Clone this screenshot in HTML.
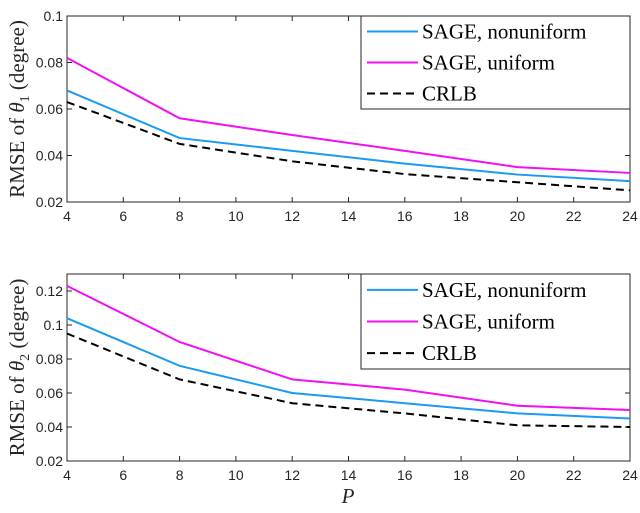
<!DOCTYPE html>
<html><head><meta charset="utf-8"><style>
body{margin:0;background:#fff}
svg text{font-family:"Liberation Sans",sans-serif}
.serif{font-family:"Liberation Serif",serif}
</style></head><body>
<svg id="c" width="640" height="508" viewBox="0 0 640 508" xmlns="http://www.w3.org/2000/svg"></svg>
<script>
const xVals=[4,8,12,16,20,24];
const xTicks=[4,6,8,10,12,14,16,18,20,22,24];
const top_nonuniform=[0.068,0.0475,0.042,0.0365,0.0318,0.029];
const top_uniform=[0.082,0.056,0.0488,0.042,0.035,0.0325];
const top_crlb=[0.063,0.045,0.0375,0.032,0.0285,0.025];
const top_yTicks=[0.02,0.04,0.06,0.08,0.1];
const bot_nonuniform=[0.104,0.076,0.060,0.054,0.048,0.045];
const bot_uniform=[0.123,0.090,0.068,0.062,0.0525,0.050];
const bot_crlb=[0.095,0.068,0.054,0.048,0.041,0.040];
const bot_yTicks=[0.02,0.04,0.06,0.08,0.1,0.12];
const legendLabels=["SAGE, nonuniform","SAGE, uniform","CRLB"];

const NS="http://www.w3.org/2000/svg";
const svg=document.getElementById('c');
function mk(tag,attrs,parent){const e=document.createElementNS(NS,tag);for(const k in attrs)e.setAttribute(k,attrs[k]);(parent||svg).appendChild(e);return e;}

function panel(id,y0,y1,yMin,yMax,yTicks,series,sub,legB){
  const L=67,R=630;
  const g=mk('g',{});
  
  
  const xs=v=>L+(v-4)/20*(R-L);
  const ys=v=>y1-(v-yMin)/(yMax-yMin)*(y1-y0);
  const ax=mk('rect',{x:L,y:y0,width:R-L,height:y1-y0,fill:'#fff',stroke:'#262626','stroke-width':1},g);
  
  
  xTicks.forEach(t=>{
    const x=xs(t);
    mk('line',{x1:x,x2:x,y1:y1,y2:y1-5,stroke:'#262626'},g);
    mk('line',{x1:x,x2:x,y1:y0,y2:y0+5,stroke:'#262626'},g);
    const tx=mk('text',{x:x,y:y1+19,'text-anchor':'middle','font-size':14,fill:'#262626'},g);
    tx.textContent=t;
    
    
  });
  yTicks.forEach(t=>{
    const y=ys(t);
    mk('line',{x1:L,x2:L+5,y1:y,y2:y,stroke:'#262626'},g);
    mk('line',{x1:R,x2:R-5,y1:y,y2:y,stroke:'#262626'},g);
    const tx=mk('text',{x:L-4,y:y+5,'text-anchor':'end','font-size':14,fill:'#262626'},g);
    tx.textContent=String(t);
    
    
  });
  const styles=[{c:'#1a9af0',d:''},{c:'#f20ff2',d:''},{c:'#000',d:'8,5'}];
  const names=['nonuniform','uniform','crlb'];
  series.forEach((s,i)=>{
    const p=mk('polyline',{points:s.map((v,j)=>xs(xVals[j])+','+ys(v)).join(' '),fill:'none',stroke:styles[i].c,'stroke-width':2,'stroke-dasharray':styles[i].d},g);
    
    
  });
  const lg=mk('g',{},g);
  
  
  mk('rect',{x:361,y:y0,width:R-361,height:legB-y0,fill:'#fff',stroke:'#262626'},lg);
  const step=(legB-y0)/3;
  legendLabels.forEach((lab,i)=>{
    const cy=y0+step*(i+0.5);
    mk('line',{x1:367,x2:418,y1:cy,y2:cy,stroke:styles[i].c,'stroke-width':2,'stroke-dasharray':styles[i].d},lg);
    const t=mk('text',{x:422,y:cy+7,'font-size':21,fill:'#000',class:'serif'},lg);
    t.textContent=lab;
    
    
  });
  const yl=mk('text',{x:0,y:0,transform:`translate(24,${(y0+y1)/2}) rotate(-90)`,'text-anchor':'middle','font-size':21,fill:'#262626',class:'serif'},g);
  yl.innerHTML='RMSE of <tspan font-style="italic">θ</tspan><tspan font-size="14" dy="5">'+sub+'</tspan><tspan dy="-5"> (degree)</tspan>';
  
  
}
panel('top',16,202,0.02,0.1,top_yTicks,[top_nonuniform,top_uniform,top_crlb],'1',109);
panel('bottom',274,461,0.02,0.13,bot_yTicks,[bot_nonuniform,bot_uniform,bot_crlb],'2',369);
const xl=mk('text',{x:348,y:503,'text-anchor':'middle','font-size':21,'font-style':'italic',fill:'#262626',class:'serif'});
xl.textContent='P';


</script>
</body></html>
